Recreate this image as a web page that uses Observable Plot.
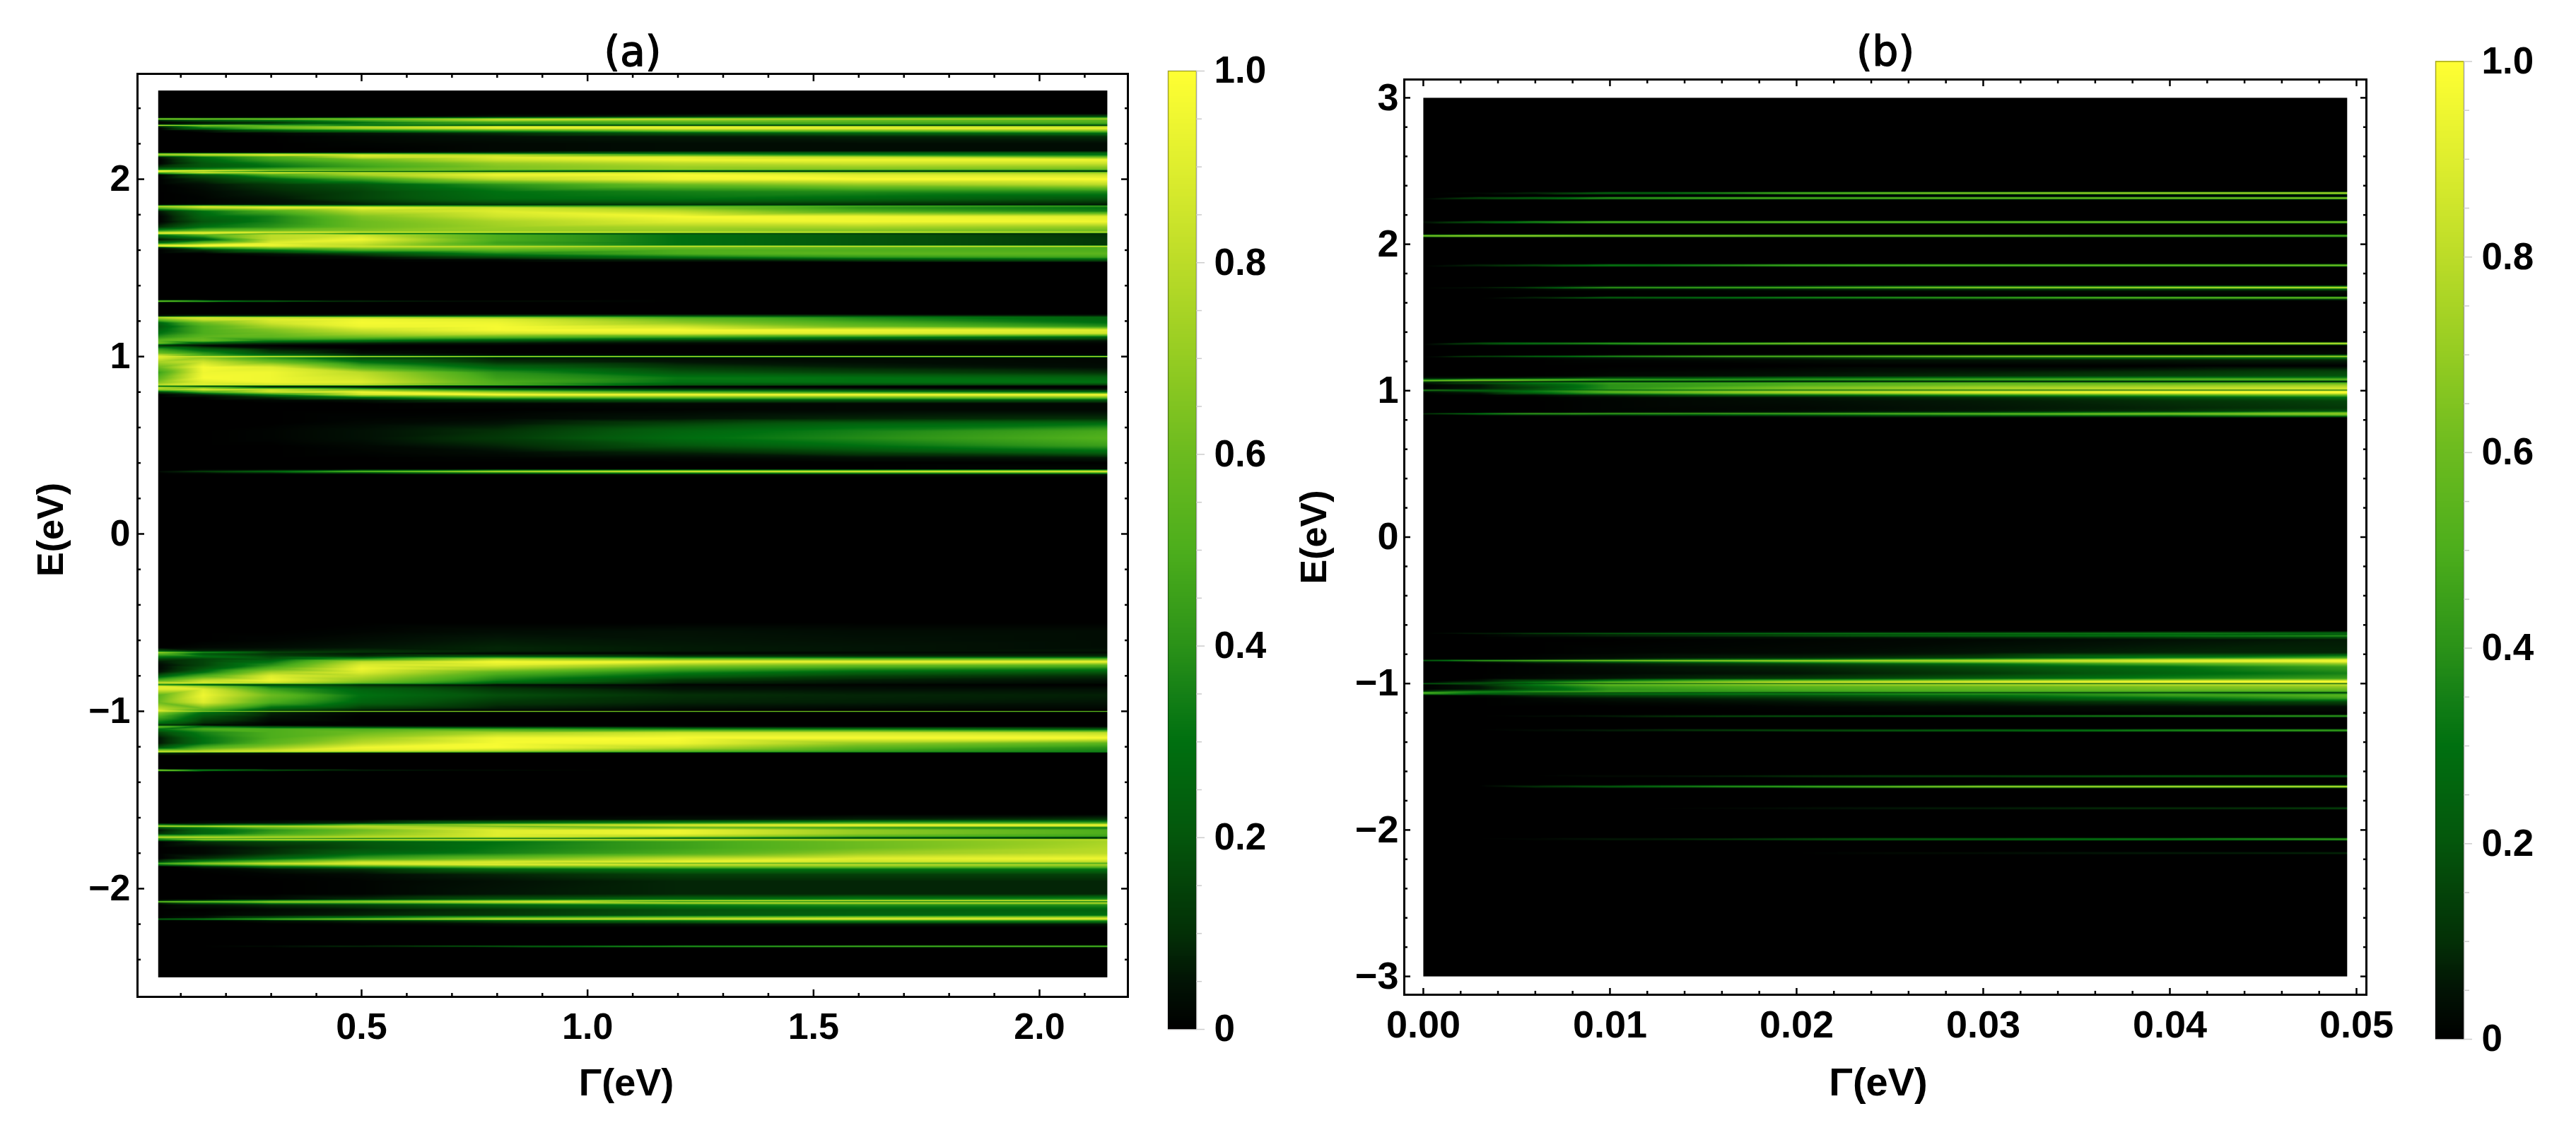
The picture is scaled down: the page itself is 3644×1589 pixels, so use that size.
<!DOCTYPE html>
<html>
<head>
<meta charset="utf-8">
<script src="https://cdn.jsdelivr.net/npm/d3@7"></script>
<script src="https://cdn.jsdelivr.net/npm/@observablehq/plot@0.6"></script>
<style>
html,body{margin:0;padding:0;background:#fff}
#page{position:relative;width:3644px;height:1589px;overflow:hidden;background:#fff}
#page>svg,#page>div{position:absolute}
</style>
</head>
<body>
<div id="page"></div>
<script>
// Colour scale
const colorStops = [0, .05, .1, .2, .3, .35, .4, .5, .6, .7, .8, .9, 1];
const colorValues = ["#000000", "#021405", "#033006", "#04560c", "#007010", "#158016", "#2b9218", "#4dae1c", "#6cbb1f", "#95cc22", "#bcdc28", "#dfee2e", "#ffff33"];

// Panel (a): Gamma sample columns and [E, intensity at each Gamma]
const gammaA = [0.05, 0.15, 0.3, 0.5, 0.8, 1.2, 1.6, 2.15];
const rowsAUpper = [
[2.5],[2.37],
[2.352,0,0,0,0,.05,.1,.15,.2],
[2.345,.1,.1,.15,.3,.4,.5,.55,.6],
[2.34,.85,.8,.75,.7,.8,.85,.8,.75],
[2.333,.1,.2,.3,.5,.8,.7,.6,.55],
[2.32,0,.05,.1,.3,.45,.5,.5,.5],
[2.31,.05,.1,.2,.35,.4,.45,.45,.4],
[2.303,.85,.7,.5,.3,.15,.1,.1,.1],
[2.298,.1,.5,.6,.7,.85,.85,.8,.75],
[2.288,0,.3,.6,.8,.95,.95,.95,.95],
[2.275,0,.05,.2,.35,.5,.65,.65,.7],
[2.26,0,0,.02,.05,.1,.2,.25,.3],
[2.24,0,0,0,.02,.04,.06,.08,.1],
[2.2,0,0,0,.01,.02,.03,.03,.03],
[2.16,0,0,0,0,.02,.03,.03,.03],
[2.15,0,0,0,.05,.1,.2,.2,.2],
[2.143,.7,.7,.7,.6,.45,.35,.3,.3],
[2.137,.75,.85,.95,.9,.8,.5,.35,.3],
[2.125,.05,.3,.5,.85,.9,.9,.8,.6],
[2.11,0,.25,.45,.6,.85,.95,.95,.95],
[2.09,0,.2,.35,.5,.7,.8,.85,.85],
[2.07,.1,.2,.3,.45,.65,.72,.72,.7],
[2.055,.3,.4,.5,.55,.65,.7,.65,.6],
[2.048,.9,.95,.7,.6,.4,.25,.2,.18],
[2.044,.95,.7,.3,.2,.15,.1,.1,.1],
[2.038,.6,.9,.9,.8,.8,.85,.75,.7],
[2.025,0,.2,.5,.75,.95,.98,.9,.85],
[2,0,.1,.25,.45,.8,.95,.98,.98],
[1.97,0,.04,.12,.2,.4,.6,.7,.8],
[1.93,0,.02,.08,.15,.3,.35,.38,.38],
[1.89,0,.01,.05,.15,.28,.3,.27,.2],
[1.862,0,.01,.04,.08,.15,.15,.12,.08],
[1.855,.05,.1,.1,.1,.1,.1,.08,.05],
[1.848,.8,.85,.7,.6,.5,.5,.5,.45],
[1.84,.6,.85,.95,.95,.85,.65,.4,.3],
[1.82,.05,.3,.5,.8,.9,.8,.5,.35],
[1.79,0,.25,.35,.65,.85,.97,.95,.9],
[1.76,0,.2,.35,.6,.75,.9,.95,.95],
[1.73,.1,.3,.4,.6,.72,.75,.75,.7],
[1.71,.4,.55,.6,.65,.7,.7,.65,.6],
[1.699,.85,.9,.9,.85,.85,.85,.85,.8],
[1.694,.9,.9,.6,.3,.2,.15,.12,.1],
[1.685,.3,.5,.8,.85,.5,.3,.2,.1],
[1.66,.05,.2,.8,.95,.5,.3,.2,.12],
[1.64,.3,.6,.9,.85,.45,.3,.2,.12],
[1.628,.9,.95,.95,.8,.5,.3,.2,.12],
[1.622,.9,.95,.9,.85,.8,.85,.85,.85],
[1.615,.1,.5,.7,.75,.7,.6,.55,.5],
[1.6,0,.1,.3,.5,.55,.5,.5,.5],
[1.58,0,0,.05,.15,.35,.5,.55,.55],
[1.56,0,0,0,.03,.15,.3,.4,.45],
[1.545,0,0,0,0,.02,.08,.15,.2],
[1.53],[1.32],
[1.312,.7,.5,.25,.1,.03,0,0,0],
[1.305],[1.24],
[1.228,.05,.1,.1,.15,.2,.2,.15,.1],
[1.222,.8,.85,.8,.75,.65,.45,.35,.25],
[1.21,.6,.85,.9,.95,.9,.6,.4,.25],
[1.19,.25,.6,.85,.97,.95,.7,.5,.3],
[1.17,.2,.5,.75,.95,.97,.85,.6,.4],
[1.15,.25,.5,.65,.85,.97,.97,.95,.9],
[1.13,.3,.5,.6,.75,.85,.9,.9,.85],
[1.11,.4,.55,.55,.6,.55,.45,.35,.25],
[1.09,.55,.6,.35,.3,.2,.12,.08,.05],
[1.075,.6,.2,.1,.07,.05,.03,.02,.01],
[1.062,.1,.02,0,0,0,0,0,0],
[1.045,.4,.2,.05,0,0,0,0,0],
[1.02,.6,.4,.15,.03,0,0,0,0],
[1.006,.85,.5,.3,.1,.03,.02,.02,.02],
[1,.9,.85,.85,.8,.8,.8,.8,.8],
[.994,.9,.7,.4,.15,.05,.03,.02,.02],
[.97,.75,.85,.6,.3,.1,.05,.03,.02],
[.94,.6,.97,.9,.5,.25,.12,.07,.03],
[.91,.45,.95,.95,.8,.4,.2,.15,.1],
[.88,.55,.97,.95,.85,.45,.32,.3,.25],
[.855,.65,.9,.95,.9,.5,.3,.3,.3],
[.84,.8,.9,.85,.8,.5,.2,.15,.12],
[.833,.3,.1,.05,.05,.03,.01,0,0],
[.826,.8,.6,.2,.1,.04,.02,0,0],
[.815,.75,.9,.85,.6,.25,.12,.1,.05],
[.8,.15,.5,.85,.95,.7,.5,.4,.3],
[.785,0,.08,.35,.85,.97,.97,.98,.98],
[.77,0,.01,.1,.3,.55,.6,.6,.65],
[.755,0,0,.02,.05,.15,.2,.2,.2],
[.735,0,0,0,0,.01,.02,.02,.02],
[.7,0,0,0,0,0,.01,.02,.02],
[.65,0,0,0,.01,.02,.05,.08,.1],
[.62,0,0,0,.02,.05,.15,.25,.3],
[.58,0,0,.01,.04,.1,.25,.35,.48],
[.54,0,0,.01,.04,.12,.28,.38,.52],
[.5,0,0,0,.02,.08,.2,.3,.45],
[.46,0,0,0,.01,.03,.08,.15,.25],
[.43,0,0,0,0,.01,.02,.04,.06],
[.4],
[.365,0,0,0,0,0,0,0,.02],
[.358,0,.05,.1,.25,.4,.5,.5,.55],
[.352,.03,.15,.3,.6,.85,.95,.95,.95],
[.345,0,.03,.08,.15,.3,.4,.45,.5],
[.335,0,0,0,0,.01,.02,.03,.04],
[.32],[0]
];
const rowsALower = [
[-.5],
[-.55,0,0,0,.01,.03,.04,.03,.03],
[-.6,0,0,.01,.03,.06,.05,.04,.03],
[-.64,0,.02,.03,.05,.08,.06,.05,.03],
[-.66,.2,.08,.08,.1,.08,.06,.05,.05],
[-.668,.75,.4,.15,.1,.05,.03,.02,.02],
[-.675,.55,.2,.1,.05,.02,.02,.04,.05],
[-.69,.35,.3,.15,.1,.2,.12,.1,.1],
[-.705,.15,.15,.2,.4,.75,.6,.55,.55],
[-.72,.06,.15,.3,.8,.97,.95,.95,.95],
[-.74,.02,.15,.4,.9,.9,.7,.6,.55],
[-.76,.02,.2,.55,.95,.75,.5,.4,.35],
[-.78,.05,.3,.75,.9,.55,.35,.25,.2],
[-.8,.2,.5,.9,.8,.45,.25,.15,.1],
[-.825,.5,.8,.95,.7,.35,.12,.07,.05],
[-.84,.85,.9,.85,.6,.25,.08,.05,.03],
[-.85,.3,.15,.1,.08,.03,.01,.01,0],
[-.858,.9,.7,.3,.15,.07,.03,.02,.01],
[-.875,.9,.9,.45,.25,.12,.05,.04,.04],
[-.91,.55,.95,.6,.3,.18,.1,.08,.07],
[-.95,.6,.9,.5,.25,.12,.08,.07,.05],
[-.985,.8,.6,.25,.12,.06,.03,.02,.02],
[-.996,.9,.5,.15,.05,.02,.01,0,0],
[-1,.85,.7,.7,.7,.7,.65,.65,.6],
[-1.005,.7,.3,.08,.02,0,0,0,0],
[-1.03,.5,.2,.05,0,0,0,0,0],
[-1.065,.3,.1,.01,0,0,0,0,0],
[-1.078,.08,.03,0,0,0,0,0,0],
[-1.086,.6,.3,.15,.08,.04,.02,.01,.01],
[-1.1,.3,.5,.5,.5,.45,.35,.3,.2],
[-1.12,.15,.35,.5,.6,.75,.85,.85,.8],
[-1.15,.05,.3,.5,.7,.95,.98,.98,.98],
[-1.18,.05,.3,.55,.8,.97,.95,.7,.55],
[-1.205,.2,.5,.7,.95,.98,.8,.55,.4],
[-1.222,.7,.75,.85,.9,.8,.6,.45,.35],
[-1.229,.9,.85,.8,.7,.6,.5,.4,.35],
[-1.235,.1,.06,.04,.03,.02,.01,0,0],
[-1.25],[-1.325],
[-1.332,.8,.4,.2,.08,.03,0,0,0],
[-1.34],[-1.58],
[-1.61,0,0,0,0,.02,.04,.08,.12],
[-1.63,0,.03,.05,.1,.3,.4,.5,.5],
[-1.64,.3,.2,.3,.6,.8,.9,.95,.95],
[-1.648,.85,.85,.8,.8,.6,.8,.85,.85],
[-1.655,.2,.35,.6,.75,.75,.55,.4,.3],
[-1.67,.05,.25,.4,.6,.9,.95,.7,.5],
[-1.69,.1,.25,.45,.65,.9,.95,.7,.5],
[-1.705,.6,.6,.65,.75,.9,.8,.55,.45],
[-1.712,.85,.9,.85,.85,.8,.45,.2,.1],
[-1.716,.4,.4,.3,.2,.15,.1,.08,.05],
[-1.722,.4,.75,.85,.85,.9,.85,.8,.8],
[-1.735,0,.1,.15,.2,.3,.45,.6,.75],
[-1.77,0,.02,.08,.18,.32,.45,.6,.78],
[-1.8,0,.02,.1,.25,.35,.5,.7,.8],
[-1.83,0,.1,.25,.45,.6,.8,.9,.95],
[-1.85,.15,.4,.6,.85,.9,.95,.85,.8],
[-1.857,.5,.7,.85,.9,.85,.6,.55,.5],
[-1.865,.3,.5,.7,.8,.9,.85,.8,.75],
[-1.875,0,.1,.3,.45,.6,.65,.65,.6],
[-1.89,0,.01,.05,.1,.25,.3,.3,.3],
[-1.92,0,0,.01,.03,.08,.14,.14,.14],
[-1.96,0,0,0,.01,.04,.08,.08,.08],
[-2.03,0,0,0,.01,.05,.08,.08,.08],
[-2.06,0,0,.03,.1,.2,.28,.35,.4],
[-2.068,.1,.2,.4,.55,.65,.8,.85,.9],
[-2.074,.75,.75,.75,.7,.85,.3,.2,.15],
[-2.079,.1,.3,.5,.55,.7,.85,.85,.85],
[-2.09,0,.05,.1,.15,.25,.35,.4,.4],
[-2.12,0,0,.02,.05,.1,.18,.22,.25],
[-2.15,0,.01,.04,.08,.12,.2,.25,.3],
[-2.165,0,.05,.2,.35,.6,.7,.8,.85],
[-2.172,.25,.35,.55,.7,.85,.85,.9,.9],
[-2.18,0,.01,.05,.1,.2,.3,.4,.4],
[-2.2,0,0,0,.01,.03,.05,.05,.05],
[-2.22],[-2.318],
[-2.325,0,0,.03,.1,.25,.5,.6,.65],
[-2.332],[-2.5]
];

// Panel (b)
const gammaB = [0, 0.003, 0.006, 0.01, 0.02, 0.03, 0.04, 0.0495];
const rowsBUpper = [
[3],[2.36],
[2.349,0,.02,.1,.3,.65,.85,.95,.98],
[2.338],[2.326],
[2.315,0,.2,.3,.5,.65,.75,.8,.85],
[2.304],[2.162],
[2.151,.05,.25,.45,.65,.75,.75,.8,.8],
[2.14],[2.068],
[2.057,.75,.85,.85,.8,.75,.75,.7,.65],
[2.046],[1.867],
[1.856,0,.1,.2,.4,.6,.7,.75,.8],
[1.845],[1.72],
[1.71,0,0,.02,.1,.2,.35,.4,.45],
[1.704,0,.05,.2,.5,.65,.8,.9,.95],
[1.696,0,0,.02,.05,.1,.15,.2,.3],
[1.68,0,0,0,0,.01,.02,.03,.04],
[1.645],
[1.634,0,0,.1,.3,.45,.55,.7,.75],
[1.627,0,0,0,.02,.05,.1,.15,.2],
[1.615],[1.333],
[1.322,0,.2,.35,.5,.75,.9,.95,.98],
[1.311],
[1.25,0,0,0,0,0,0,0,.02],
[1.241,0,0,.02,.05,.1,.15,.2,.25],
[1.234,0,.2,.35,.5,.7,.85,.9,.9],
[1.226,0,0,.02,.05,.1,.2,.25,.3],
[1.21,0,0,0,.01,.03,.05,.06,.08],
[1.17],
[1.13,0,0,0,.01,.03,.06,.1,.15],
[1.1,0,0,0,.02,.05,.1,.15,.2],
[1.085,.05,.05,.1,.2,.3,.35,.4,.4],
[1.075,.3,.5,.55,.5,.45,.5,.55,.6],
[1.068,.7,.7,.55,.3,.2,.25,.3,.3],
[1.062,.2,.05,.02,.02,.02,.02,.01,.01],
[1.055,.05,.2,.35,.45,.5,.55,.5,.5],
[1.04,0,.05,.2,.4,.5,.6,.65,.7],
[1.02,0,.05,.15,.4,.65,.75,.8,.85],
[1.007,.05,.1,.2,.4,.6,.7,.8,.85],
[1.003,.5,.3,.2,.15,.1,.1,.05,.05],
[.998,.1,.2,.35,.55,.75,.85,.95,.98],
[.985,0,.05,.25,.5,.75,.9,.97,.98],
[.97,0,0,.03,.1,.25,.4,.5,.6],
[.955,0,0,0,.02,.05,.1,.2,.3],
[.93,0,0,0,.01,.03,.06,.1,.15],
[.88,0,0,0,.01,.02,.05,.08,.12],
[.86,0,0,0,.01,.03,.06,.1,.2],
[.85,0,0,.02,.05,.1,.2,.35,.55],
[.846,0,.2,.4,.5,.6,.65,.8,.9],
[.842,.2,.5,.6,.5,.4,.45,.4,.35],
[.838,0,.1,.15,.2,.35,.5,.65,.8],
[.828,0,0,.01,.02,.08,.15,.2,.35],
[.815],[0]
];
const rowsBLower = [
[-.64],
[-.652,0,0,.01,.02,.06,.1,.15,.2],
[-.658,0,.1,.2,.3,.4,.4,.4,.3],
[-.664,0,0,.02,.05,.1,.15,.2,.15],
[-.674,0,0,.05,.1,.2,.3,.35,.45],
[-.682,0,0,.01,.02,.05,.1,.15,.2],
[-.7,0,0,0,0,.01,.02,.04,.06],
[-.79,0,0,0,.01,.02,.05,.08,.08],
[-.825,0,0,.01,.03,.08,.15,.35,.5],
[-.836,0,0,.03,.1,.3,.55,.8,.9],
[-.843,.3,.6,.7,.8,.85,.85,.9,.95],
[-.85,0,.05,.15,.25,.5,.7,.9,.95],
[-.865,0,0,.02,.05,.15,.3,.5,.7],
[-.885,0,0,.01,.03,.08,.18,.3,.45],
[-.93,0,0,.01,.02,.05,.12,.25,.35],
[-.965,0,0,.02,.05,.12,.22,.35,.45],
[-.985,0,.05,.2,.4,.7,.85,.95,.98],
[-.994,0,.15,.35,.6,.9,.95,.98,.98],
[-1,.3,.2,.15,.1,.1,.08,.05,.05],
[-1.006,0,.1,.35,.6,.75,.8,.85,.85],
[-1.02,0,.05,.25,.45,.55,.6,.65,.7],
[-1.04,0,.05,.2,.4,.5,.55,.6,.6],
[-1.055,.1,.3,.4,.45,.45,.5,.5,.5],
[-1.06,.6,.5,.45,.4,.3,.3,.25,.2],
[-1.063,.5,.2,.05,.02,.02,.01,.01,.01],
[-1.068,.5,.3,.25,.3,.4,.45,.45,.4],
[-1.08,0,.03,.1,.15,.2,.3,.45,.55],
[-1.1,0,0,.02,.05,.1,.18,.3,.45],
[-1.125,0,0,.01,.02,.05,.08,.12,.15],
[-1.16,0,0,0,0,.01,.02,.03,.03],
[-1.21],
[-1.217,0,0,0,.02,.05,.1,.15,.2],
[-1.222,0,0,.03,.08,.25,.35,.45,.55],
[-1.232],[-1.309],
[-1.32,0,0,.03,.08,.2,.3,.45,.55],
[-1.331],[-1.622],
[-1.633,0,0,0,.03,.12,.18,.25,.28],
[-1.644],[-1.693],
[-1.704,0,0,.12,.25,.55,.8,.9,.95],
[-1.715],[-1.841],
[-1.852,0,0,0,0,.04,.08,.12,.18],
[-1.863],[-2.052],
[-2.063,0,0,.02,.07,.2,.3,.4,.55],
[-2.074],[-2.147],
[-2.158,0,0,0,0,0,.04,.07,.1],
[-2.169],[-3]
];

// Ticks
const xMajorA = [0.5, 1, 1.5, 2];
const xMinorA = [.1,.2,.3,.4,.6,.7,.8,.9,1.1,1.2,1.3,1.4,1.6,1.7,1.8,1.9,2.1];
const yMajorA = [-2,-1,0,1,2];
const yMinorA = [-2.4,-2.2,-1.8,-1.6,-1.4,-1.2,-.8,-.6,-.4,-.2,.2,.4,.6,.8,1.2,1.4,1.6,1.8,2.2,2.4];
const xMajorB = [0,.01,.02,.03,.04,.05];
const xMinorB = [.002,.004,.006,.008,.012,.014,.016,.018,.022,.024,.026,.028,.032,.034,.036,.038,.042,.044,.046,.048];
const yMajorB = [-3,-2,-1,0,1,2,3];
const yMinorB = [-2.8,-2.6,-2.4,-2.2,-1.8,-1.6,-1.4,-1.2,-.8,-.6,-.4,-.2,.2,.4,.6,.8,1.2,1.4,1.6,1.8,2.2,2.4,2.6,2.8];
const barMajor = [0,.2,.4,.6,.8,1];
const barMinor = [.05,.1,.15,.25,.3,.35,.45,.5,.55,.65,.7,.75,.85,.9,.95];
const barLevels = d3.range(0, 1, 0.002);

const colorScale = {type: "linear", domain: colorStops, range: colorValues, clamp: true};
const FONT = "'Liberation Sans', Arial, sans-serif";

function table(gamma, rows) {
  return rows.flatMap(([e, ...v]) => gamma.map((g, i) => ({g, e, v: v[i] ?? 0})));
}

function frameTicks(xMajor, xMinor, yMajor, yMinor, fmt, tp) {
  const sw = tp.sw;
  return [
    Plot.axisX({anchor: "bottom", ticks: xMinor, tickSize: -tp.minor, fill: "none", label: null, strokeWidth: sw}),
    Plot.axisX({anchor: "top", ticks: xMinor, tickSize: -tp.minor, fill: "none", label: null, strokeWidth: sw}),
    Plot.axisY({anchor: "left", ticks: yMinor, tickSize: -tp.minor, fill: "none", label: null, strokeWidth: sw}),
    Plot.axisY({anchor: "right", ticks: yMinor, tickSize: -tp.minor, fill: "none", label: null, strokeWidth: sw}),
    Plot.axisX({anchor: "top", ticks: xMajor, tickSize: -tp.major, fill: "none", label: null, strokeWidth: sw}),
    Plot.axisY({anchor: "right", ticks: yMajor, tickSize: -tp.major, fill: "none", label: null, strokeWidth: sw}),
    Plot.axisX({anchor: "bottom", ticks: xMajor, tickSize: -tp.major, tickPadding: tp.major + tp.xpad, tickFormat: fmt, label: null, strokeWidth: sw, fontSize: tp.font, fontWeight: "bold", fontVariant: "normal"}),
    Plot.axisY({anchor: "left", ticks: yMajor, tickSize: -tp.major, tickPadding: tp.major + tp.ypad, tickFormat: d3.format("d"), label: null, strokeWidth: sw, fontSize: tp.font, fontWeight: "bold", fontVariant: "normal"})
  ];
}

function panel(o) {
  const svg = Plot.plot({
    width: o.width, height: 1589,
    marginLeft: o.ml, marginRight: o.mr, marginTop: o.mt, marginBottom: 1589 - o.fb,
    style: {fontFamily: FONT, fontWeight: "bold", background: "transparent", overflow: "visible"},
    x: {domain: o.xd}, y: {domain: o.yd}, color: colorScale,
    marks: [
      Plot.raster(table(o.gamma, o.rows), {x: "g", y: "e", fill: "v", x1: o.ix[0], x2: o.ix[1], y1: o.iy[0], y2: o.iy[1], interpolate: "barycentric"}),
      ...frameTicks(o.xMajor, o.xMinor, o.yMajor, o.yMinor, o.fmt, o.tp),
      Plot.frame({stroke: "black", strokeWidth: o.tp.fw}),
      Plot.text([o.title], {frameAnchor: "top", lineAnchor: "middle", dy: o.tdy, fontSize: 58, fontFamily: "'DejaVu Sans'", fontWeight: "normal", fill: "black", stroke: "black", strokeWidth: 1.5}),
      Plot.text(["Γ(eV)"], {frameAnchor: "bottom", lineAnchor: "middle", dx: o.xldx, dy: o.xldy, fontSize: o.xlfont, fontWeight: "bold"}),
      Plot.text(["E(eV)"], {frameAnchor: "left", textAnchor: "middle", lineAnchor: "middle", rotate: -90, dx: o.yldx, dy: o.yldy, fontSize: 52, fontWeight: "bold"})
    ]
  });
  svg.style.left = o.left + "px"; svg.style.top = "0px";
  return svg;
}

function colorBar(o) {
  const svg = Plot.plot({
    width: o.width, height: 1589,
    marginLeft: 7, marginRight: o.width - 47, marginTop: o.top, marginBottom: 1589 - o.bottom,
    style: {fontFamily: FONT, fontWeight: "bold", background: "transparent", overflow: "visible"},
    x: {domain: [0, 1], axis: null}, y: {domain: [0, 1]}, color: colorScale,
    marks: [
      Plot.rect(barLevels, {x1: 0, x2: 1, y1: d => d, y2: d => d + 0.002, fill: d => d, shapeRendering: "crispEdges", inset: -0.3}),
      Plot.frame({stroke: "black", strokeOpacity: 0.35, strokeWidth: 1.5}),
      Plot.ruleY(barMinor, {x1: 1, x2: 1.2, stroke: "#cccccc", strokeWidth: 1.5}),
      Plot.ruleY(barMajor, {x1: 1, x2: 1.3, stroke: "#cccccc", strokeWidth: 1.5}),
      Plot.axisY({anchor: "right", ticks: barMajor, tickSize: 0, tickPadding: 25, tickFormat: d => d === 0 ? "0" : d.toFixed(1), label: null, fontSize: o.font, fontWeight: "bold", fontVariant: "normal"})
    ]
  });
  svg.style.left = o.left + "px"; svg.style.top = "0px";
  return svg;
}

const page = document.getElementById("page");
page.append(
  panel({title: "(a)", left: 0, width: 1640, ml: 194, mr: 45, mt: 104, fb: 1410,
    xd: [0.0042, 2.1955], yd: [-2.61, 2.594], ix: [0.05, 2.15], iy: [-2.5, 2.5],
    gamma: gammaA, rows: [...rowsAUpper, ...rowsALower],
    xMajor: xMajorA, xMinor: xMinorA, yMajor: yMajorA, yMinor: yMinorA, fmt: d3.format(".1f"),
    tp: {major: 10, minor: 5, sw: 2.5, fw: 3, xpad: 23, ypad: 10, font: 52},
    tdy: -30, xldx: -9, xldy: 122, xlfont: 54, yldx: -122, yldy: -8}),
  panel({title: "(b)", left: 1800, width: 1640, ml: 186, mr: 93, mt: 112, fb: 1407,
    xd: [-0.00102, 0.05053], yd: [-3.125, 3.125], ix: [0, 0.0495], iy: [-3, 3],
    gamma: gammaB, rows: [...rowsBUpper, ...rowsBLower],
    xMajor: xMajorB, xMinor: xMinorB, yMajor: yMajorB, yMinor: yMinorB, fmt: d3.format(".2f"),
    tp: {major: 9, minor: 5, sw: 2.5, fw: 3, xpad: 22, ypad: 8, font: 54},
    tdy: -38, xldx: -10, xldy: 125, xlfont: 56, yldx: -127, yldy: 0}),
  colorBar({left: 1645, width: 160, top: 100, bottom: 1456, font: 53}),
  colorBar({left: 3438, width: 206, top: 86.5, bottom: 1470, font: 53})
);
</script>
</body>
</html>
